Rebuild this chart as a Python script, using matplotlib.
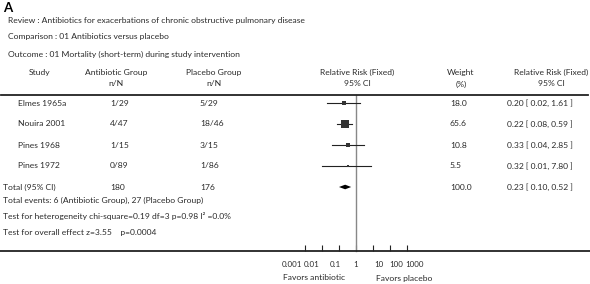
import numpy as np
import matplotlib.pyplot as plt
import matplotlib.transforms as mtransforms
from matplotlib.patches import Polygon

plt.rcParams['font.family'] = ['Lato', 'DejaVu Sans']

# study data
studies = ["Elmes 1965a", "Nouira 2001", "Pines 1968", "Pines 1972"]
antibiotic = ["1/29", "4/47", "1/15", "0/89"]
placebo = ["5/29", "18/46", "3/15", "1/86"]
rr = [0.20, 0.22, 0.33, 0.32]
lo = [0.02, 0.08, 0.04, 0.01]
hi = [1.61, 0.59, 2.85, 7.80]
weight = [18.0, 65.6, 10.8, 5.5]

total_n = ["180", "176"]
total_rr, total_lo, total_hi = 0.23, 0.10, 0.52

tick_vals = [0.001, 0.01, 0.1, 1, 10, 100, 1000]
tick_labels = ["0.001", "0.01", "0.1", "1", "10", "100", "1000"]
# horizontal nudge of each tick label (pixels), as laid out in the original
tick_shift = [-13, -10, -4, 0, 6, 6, 8]

W, H = 590, 284
TC = '#2a2a2a'
FS = 6.1

fig = plt.figure(figsize=(W / 100, H / 100), dpi=100)

# forest axes: log x, y in pixels; 17 px per decade, x=1 at 356 px
ax = fig.add_axes([0, 0, 1, 1])
ax.set_xscale('log')
ax.set_xlim(10 ** (-356 / 17), 10 ** ((W - 356) / 17))
ax.set_ylim(H, 0)
ax.patch.set_alpha(0)
for s in ['top', 'left', 'right']:
    ax.spines[s].set_visible(False)
ax.spines['bottom'].set_position(('data', 251))
ax.spines['bottom'].set_linewidth(1.3)
ax.spines['bottom'].set_color('#222')
ax.set_yticks([])
ax.set_xticks(tick_vals)
ax.set_xticklabels(tick_labels)
ax.xaxis.set_minor_locator(plt.NullLocator())
ax.tick_params(axis='x', direction='in', length=4, width=0.8, color='#222',
               labelsize=5.7, labelcolor=TC, pad=7)
for lab, dx in zip(ax.get_xticklabels(), tick_shift):
    lab.set_transform(lab.get_transform() +
                      mtransforms.ScaledTranslation(dx / 100, 0, fig.dpi_scale_trans))

# line of no effect
ax.plot([1, 1], [95, 251], color='#888', lw=1.0)

row_y = [103 + 21 * i for i in range(len(studies))]
for y, r, l, h, w in zip(row_y, rr, lo, hi, weight):
    ax.plot([l, h], [y, y], color='#222', lw=0.8)
    ax.plot([r], [y], marker='s', ms=np.sqrt(w) * 0.72, color='#333', mec='#333', mew=0)

ty = 187
dia = Polygon([[total_lo, ty], [total_rr, ty - 2.3], [total_hi, ty], [total_rr, ty + 2.3]],
              closed=True, color='black', lw=0)
ax.add_patch(dia)

# text overlay in pixel coordinates
tx = fig.add_axes([0, 0, 1, 1])
tx.set_xlim(0, W)
tx.set_ylim(H, 0)
tx.axis('off')
tx.patch.set_alpha(0)

def t(x, y, s, ha='left', **kw):
    tx.text(x, y, s, ha=ha, va='center', fontsize=FS, color=TC, **kw)

tx.text(3, 8, "A", ha='left', va='center', fontsize=9.5, fontweight='bold', color='black')
t(8, 20, "Review : Antibiotics for exacerbations of chronic obstructive pulmonary disease")
t(8, 37, "Comparison : 01 Antibiotics versus placebo")
t(8, 54, "Outcome : 01 Mortality (short-term) during study intervention")

t(40, 72, "Study", ha='center')
t(116, 72, "Antibiotic Group", ha='center')
t(116, 84, "n/N", ha='center')
t(214, 72, "Placebo Group", ha='center')
t(214, 84, "n/N", ha='center')
t(357, 72, "Relative Risk (Fixed)", ha='center')
t(357, 84, "95% CI", ha='center')
t(461, 72, "Weight", ha='center')
t(461, 84, "(%)", ha='center')
t(551, 72, "Relative Risk (Fixed)", ha='center')
t(551, 84, "95% CI", ha='center')

tx.plot([1, 588], [94.5, 94.5], color='#222', lw=1.3)

for y, st, a, p, r, l, h, w in zip(row_y, studies, antibiotic, placebo, rr, lo, hi, weight):
    t(18, y, st)
    t(110, y, a)
    t(200, y, p)
    t(450, y, f"{w:.1f}")
    t(507, y, f"{r:.2f} [ {l:.2f}, {h:.2f} ]")

t(3, ty, "Total (95% CI)")
t(110, ty, total_n[0])
t(200, ty, total_n[1])
t(450, ty, "100.0")
t(507, ty, f"{total_rr:.2f} [ {total_lo:.2f}, {total_hi:.2f} ]")

t(3, 200, "Total events: 6 (Antibiotic Group), 27 (Placebo Group)")
t(3, 216, "Test for heterogeneity chi-square=0.19 df=3 p=0.98 I\u00b2 =0.0%")
t(3, 232, "Test for overall effect z=3.55    p=0.0004")

t(283, 278, "Favors antibiotic")
t(376, 278, "Favors placebo")

fig.savefig("out.png", dpi=100)
